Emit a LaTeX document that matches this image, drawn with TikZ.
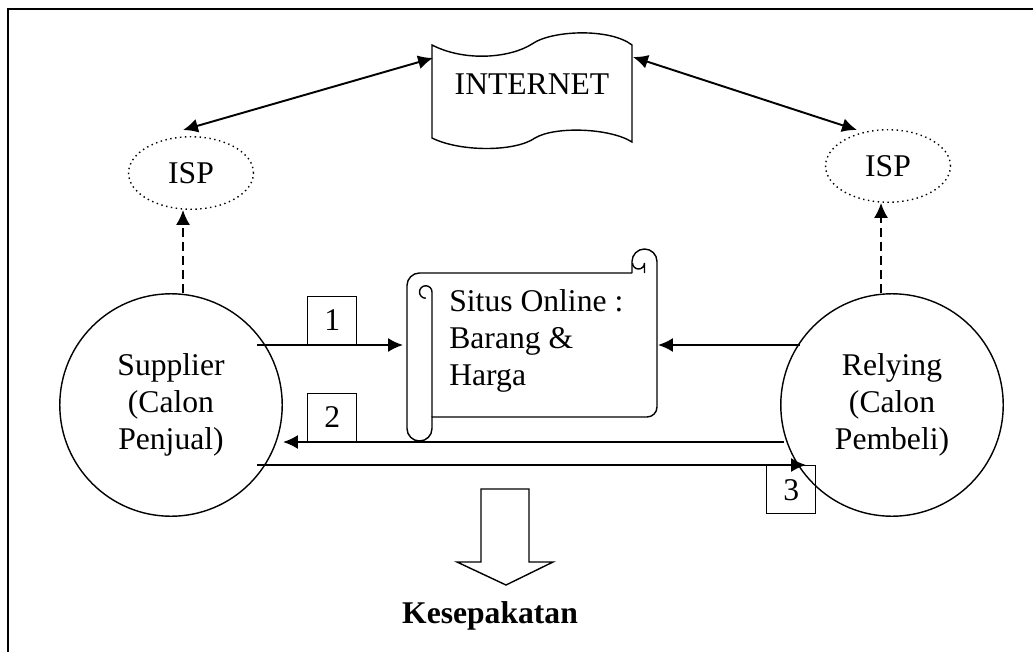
\documentclass[tikz,border=0pt]{standalone}
\usepackage{fontspec}
\setmainfont{Liberation Serif}
\usetikzlibrary{shapes.geometric,arrows.meta}

\tikzset{
  txt/.style={font=\fontsize{18}{21}\selectfont, align=left},
  isp/.style={ellipse, draw, dotted, thick, minimum width=2.5cm, minimum height=1.45cm, font=\fontsize{18}{21}\selectfont},
  party/.style={circle, draw, thick, minimum size=4.45cm, align=center, font=\fontsize{18}{21}\selectfont},
  numbox/.style={draw, thick, minimum width=0.98cm, minimum height=0.96cm, inner sep=0pt, font=\fontsize{18}{21}\selectfont},
  flow/.style={line width=1.1pt, -{Latex[length=8.5pt,width=8pt]}},
  both/.style={line width=1.1pt, {Latex[length=8.5pt,width=8pt]}-{Latex[length=8.5pt,width=8pt]}},
}

\begin{document}
\begin{tikzpicture}[x=0.02cm, y=-0.02cm]
\useasboundingbox (0,0) rectangle (1033,652);
% frame
\draw[line width=1.2pt] (1033,9) -- (8,9) -- (8,652);

% internet banner
\draw[thick] (432,45) .. controls (465,62) and (510,58) .. (532,44)
  .. controls (552,30) and (610,28) .. (632,45) -- (632,142)
  .. controls (610,128) and (555,126) .. (535,138)
  .. controls (515,152) and (460,152) .. (432,138) -- cycle;
\node[txt] (internet) at (532,84) {INTERNET};
\coordinate (netL) at (433,58);
\coordinate (netR) at (633,57);

% isp
\node[isp] (ispL) at (191,173) {ISP};
\node[isp] (ispR) at (888,166) {ISP};
\coordinate (ispLtop) at (183,130);
\coordinate (ispRtop) at (857,130);

% the two parties
\node[party] (supplier) at (171,405) {Supplier\\(Calon\\Penjual)};
\node[party] (relying) at (892,405) {Relying\\(Calon\\Pembeli)};

% scroll
\draw[thick] (632,273) -- (419.5,273) arc[start angle=270, end angle=180, radius=12.5]
  -- (407,428.5) arc[start angle=180, end angle=0, radius=12.5] -- (432,417)
  -- (647,417) arc[start angle=90, end angle=0, radius=10] -- (657,261.5)
  arc[start angle=360, end angle=180, radius=12.5] -- (632,273);
\draw[thick] (432,417) -- (432,292) arc[start angle=0, end angle=-180, radius=6.25]
  arc[start angle=180, end angle=90, radius=6.25];
\draw[thick] (644.5,273) -- (644.5,263) arc[start angle=0, end angle=180, radius=6];
\node[txt, anchor=north west, inner sep=0pt] (situs) at (449,289) {Situs Online :\\Barang \&\\Harga};
\coordinate (scrollL) at (403,345);
\coordinate (scrollR) at (658,345);

% links to the net
\draw[both] (ispLtop) -- (netL);
\draw[both] (netR) -- (ispRtop);
\draw[flow, dash pattern=on 5pt off 3pt] (supplier.north -| 183,0) -- (ispL.south -| 183,0);
\draw[flow, dash pattern=on 5pt off 3pt] (relying.north -| 881,0) -- (ispR.south -| 881,0);

% steps
\coordinate (s1) at (257,345);
\coordinate (r1) at (800,345);
\coordinate (r2) at (784,442);
\coordinate (s2) at (283,442);
\coordinate (s3) at (257,465);
\coordinate (r3) at (806,465);
\draw[flow] (s1) -- (scrollL);
\draw[flow] (r1) -- (scrollR);
\draw[flow] (r2) -- (s2);
\draw[flow] (s3) -- (r3);
\node[numbox, anchor=south west] (n1) at (307,345) {1};
\node[numbox, anchor=south west] (n2) at (307,442) {2};
\node[numbox, anchor=north west] (n3) at (766,465) {3};

% result
\draw[thick] (481,489) -- (529,489) -- (529,562) -- (553,562) -- (506,585)
  -- (457,562) -- (481,562) -- cycle;
\node[txt, font=\fontsize{18}{21}\selectfont\bfseries, anchor=base] (deal) at (490,623) {Kesepakatan};
\end{tikzpicture}
\end{document}
